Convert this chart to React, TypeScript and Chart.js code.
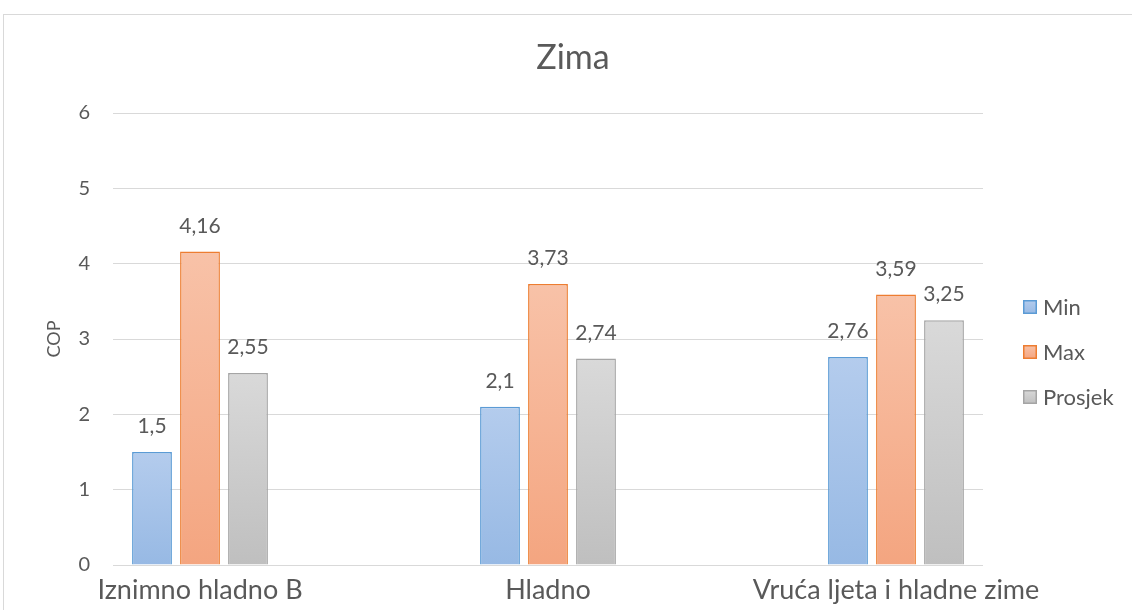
import React, { useEffect, useRef } from "react";
import { Chart, registerables } from "chart.js";

Chart.register(...registerables);

const categories = ["Iznimno hladno B", "Hladno", "Vruća ljeta i hladne zime"];
const minValues = [1.5, 2.1, 2.76];
const maxValues = [4.16, 3.73, 3.59];
const avgValues = [2.55, 2.74, 3.25];
const seriesNames = ["Min", "Max", "Prosjek"];
const yTicks = [0, 1, 2, 3, 4, 5, 6];
const chartTitle = "Zima";
const yTitle = "COP";

const FONT = "Lato, 'Open Sans', sans-serif";
const TEXT = "#595959";

const palette = [
  { top: "#b4cced", bottom: "#97b9e4", border: "#5b9bd5" },
  { top: "#f8c2a8", bottom: "#f4a580", border: "#ed7d31" },
  { top: "#d9d9d9", bottom: "#bfbfbf", border: "#a5a5a5" },
];

function gradientFor(idx: number) {
  return (ctx: any) => {
    const chart = ctx.chart;
    const area = chart.chartArea;
    const ys = chart.scales.y;
    if (!area || !ys || ctx.type !== "data") return palette[idx].bottom;
    const v = ctx.parsed ? ctx.parsed.y : ctx.raw;
    const top = ys.getPixelForValue(typeof v === "number" ? v : (v && v.y) || 0);
    const bottom = ys.getPixelForValue(0);
    if (!isFinite(top) || !isFinite(bottom) || top === bottom) return palette[idx].bottom;
    const g = chart.ctx.createLinearGradient(0, top, 0, bottom);
    g.addColorStop(0, palette[idx].top);
    g.addColorStop(1, palette[idx].bottom);
    return g;
  };
}

const frameAndLabels = {
  id: "frameAndLabels",
  beforeDraw(chart: any) {
    const c = chart.ctx;
    c.save();
    c.strokeStyle = "#d9d9d9";
    c.lineWidth = 1;
    c.strokeRect(3.5, 14.5, 1160, 640);
    c.font = `34px ${FONT}`;
    c.fillStyle = TEXT;
    c.textAlign = "center";
    c.textBaseline = "alphabetic";
    c.fillText(chartTitle, 573, 69);
    c.restore();
  },
  afterDatasetsDraw(chart: any) {
    const c = chart.ctx;
    c.save();
    c.font = `21px ${FONT}`;
    c.fillStyle = TEXT;
    c.textAlign = "center";
    c.textBaseline = "alphabetic";
    chart.data.datasets.forEach((ds: any, di: number) => {
      const meta = chart.getDatasetMeta(di);
      meta.data.forEach((el: any, i: number) => {
        const v = ds.data[i].y;
        c.fillText(String(v).replace(".", ","), el.x, el.y - 19);
      });
    });
    // legend
    const cx = 1023;
    const ys = [307, 352, 397];
    c.font = `22px ${FONT}`;
    c.textAlign = "left";
    c.textBaseline = "middle";
    chart.data.datasets.forEach((ds: any, di: number) => {
      const y = ys[di];
      const g = c.createLinearGradient(0, y - 7, 0, y + 7);
      g.addColorStop(0, palette[di].top);
      g.addColorStop(1, palette[di].bottom);
      c.fillStyle = g;
      c.fillRect(cx, y - 7, 14, 14);
      c.strokeStyle = palette[di].border;
      c.lineWidth = 1.5;
      c.strokeRect(cx + 0.75, y - 6.25, 12.5, 12.5);
      c.fillStyle = TEXT;
      c.fillText(ds.label, cx + 20, y + 1);
    });
    c.restore();
  },
};

export default function App() {
  const ref = useRef<HTMLCanvasElement | null>(null);
  useEffect(() => {
    document.body.style.margin = "0";
    if (!ref.current) return;
    const series = [minValues, maxValues, avgValues];
    const chart = new Chart(ref.current, {
      type: "bar",
      data: {
        datasets: series.map((vals, di) => ({
          label: seriesNames[di],
          data: vals.map((v, i) => ({ x: i, y: v })),
          backgroundColor: gradientFor(di),
          borderColor: palette[di].border,
          borderWidth: 1.5,
          categoryPercentage: 0.4138,
          barPercentage: 0.83,
        })),
      },
      options: {
        animation: false,
        responsive: false,
        maintainAspectRatio: false,
        layout: { padding: { left: 0, right: 149, top: 113, bottom: 0 } },
        plugins: {
          legend: { display: false },
          tooltip: { enabled: false },
          title: { display: false },
        },
        scales: {
          x: {
            type: "linear",
            offset: false,
            min: -0.25,
            max: 2.25,
            grid: { display: false, drawTicks: false },
            border: { display: false },
            afterBuildTicks: (scale: any) => {
              scale.ticks = categories.map((_, i) => ({ value: i }));
            },
            afterFit: (scale: any) => {
              scale.height = 45;
            },
            ticks: {
              autoSkip: false,
              maxRotation: 0,
              padding: 9,
              color: TEXT,
              font: { family: FONT, size: 27 },
              callback: (_v: any, index: number) => categories[index] ?? "",
            },
          },
          y: {
            min: 0,
            max: 6,
            afterBuildTicks: (scale: any) => {
              scale.ticks = yTicks.map((v) => ({ value: v }));
            },
            afterFit: (scale: any) => {
              scale.width = 113;
            },
            grid: { color: "#d9d9d9", lineWidth: 1, drawTicks: false },
            border: { display: false },
            ticks: {
              padding: 23,
              color: TEXT,
              font: { family: FONT, size: 20 },
            },
            title: {
              display: true,
              text: yTitle,
              color: TEXT,
              font: { family: FONT, size: 18 },
              padding: { top: 43, bottom: 0 },
            },
          },
        },
      },
      plugins: [frameAndLabels],
    } as any);
    return () => chart.destroy();
  }, []);
  return (
    <div style={{ width: 1132, height: 610 }}>
      <canvas ref={ref} width={1132} height={610} style={{ width: 1132, height: 610, display: "block" }} />
    </div>
  );
}
